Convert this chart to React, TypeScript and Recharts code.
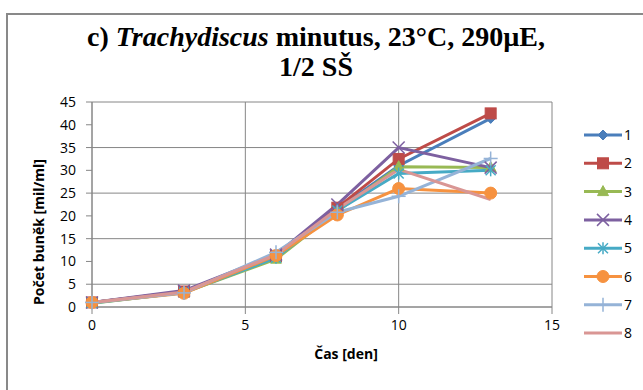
import React from 'react';
import { LineChart, Line, XAxis, YAxis, CartesianGrid } from 'recharts';

// growth curves, cell count vs. day
const days = [0, 3, 6, 8, 10, 13];
const s1 = [1.0, 3.3, 11.0, 21.5, 31.0, 41.4];
const s2 = [1.0, 3.4, 11.2, 21.8, 32.5, 42.5];
const s3 = [0.8, 3.2, 10.5, 21.0, 30.8, 30.6];
const s4 = [1.0, 3.6, 11.5, 22.5, 35.0, 30.6];
const s5 = [0.9, 3.2, 10.8, 21.2, 29.3, 30.0];
const s6 = [1.0, 3.0, 11.3, 20.2, 26.0, 25.0];
const s7 = [1.0, 3.1, 12.0, 20.8, 24.3, 32.6];
const s8 = [1.0, 3.3, 11.5, 21.5, 30.2, 23.6];

const seriesNames = ['1', '2', '3', '4', '5', '6', '7', '8'];
const seriesValues = [s1, s2, s3, s4, s5, s6, s7, s8];
const seriesColors = ['#4a7ebb', '#be4b48', '#98b954', '#7d60a0', '#46aac5', '#f69240', '#95b3d7', '#d99694'];
const seriesMarkers = ['diamond', 'square', 'triangle', 'x', 'star', 'circle', 'plus', 'none'];

const xTicks = [0, 5, 10, 15];
const yTicks = [0, 5, 10, 15, 20, 25, 30, 35, 40, 45];

const rows = days.map((d, i) => {
  const row: Record<string, number> = { day: d };
  seriesNames.forEach((n, k) => { row['s' + n] = seriesValues[k][i]; });
  return row;
});

const GRID = '#868686';
const TICK_FONT = '"Open Sans", sans-serif';

function Marker({ cx, cy, kind, color }: { cx: number; cy: number; kind: string; color: string }) {
  if (cx == null || cy == null) return null;
  switch (kind) {
    case 'diamond':
      return <polygon points={`${cx},${cy - 5} ${cx + 5},${cy} ${cx},${cy + 5} ${cx - 5},${cy}`} fill={color} stroke={color} />;
    case 'square':
      return <rect x={cx - 5.5} y={cy - 5.5} width={11} height={11} fill={color} stroke={color} />;
    case 'triangle':
      return <polygon points={`${cx},${cy - 6} ${cx + 5.5},${cy + 4} ${cx - 5.5},${cy + 4}`} fill={color} stroke={color} />;
    case 'x':
      return (
        <g stroke={color} strokeWidth={1.5}>
          <line x1={cx - 6} y1={cy - 6} x2={cx + 6} y2={cy + 6} />
          <line x1={cx - 6} y1={cy + 6} x2={cx + 6} y2={cy - 6} />
        </g>
      );
    case 'star':
      return (
        <g stroke={color} strokeWidth={1.5}>
          <line x1={cx - 5} y1={cy - 5} x2={cx + 5} y2={cy + 5} />
          <line x1={cx - 5} y1={cy + 5} x2={cx + 5} y2={cy - 5} />
          <line x1={cx} y1={cy - 6} x2={cx} y2={cy + 6} />
        </g>
      );
    case 'circle':
      return <circle cx={cx} cy={cy} r={6} fill={color} stroke={color} />;
    case 'plus':
      return (
        <g stroke={color} strokeWidth={1.5}>
          <line x1={cx - 7} y1={cy} x2={cx + 7} y2={cy} />
          <line x1={cx} y1={cy - 7} x2={cx} y2={cy + 7} />
        </g>
      );
    default:
      return null;
  }
}

function LegendBox() {
  return (
    <svg width={60} height={230} style={{ position: 'absolute', left: 582, top: 125 }}>
      {seriesNames.map((n, i) => {
        const y = 10 + i * 28.3;
        return (
          <g key={n}>
            <line x1={2} y1={y} x2={40} y2={y} stroke={seriesColors[i]} strokeWidth={3} />
            <Marker cx={21} cy={y} kind={seriesMarkers[i]} color={seriesColors[i]} />
            <text x={42} y={y + 5} fontFamily={TICK_FONT} fontSize={14} fill="#000">{n}</text>
          </g>
        );
      })}
    </svg>
  );
}

export default function App() {
  return (
    <div style={{ position: 'absolute', left: 0, top: 0, width: 643, height: 390, overflow: 'hidden', background: '#fff' }}>
      <div style={{ position: 'absolute', left: 6, top: 13, width: 660, height: 400, border: '2px solid #898989' }} />
      <div style={{ position: 'absolute', left: 0, top: 22, width: 632, textAlign: 'center', fontFamily: '"Liberation Serif", serif', fontWeight: 'bold', fontSize: 28, lineHeight: '30px', color: '#000' }}>
        c) <i>Trachydiscus</i> minutus, 23°C, 290µE,<br />1/2 SŠ
      </div>
      <div style={{ position: 'absolute', left: 38, top: 232, transform: 'translate(-50%, -50%) rotate(-90deg)', whiteSpace: 'nowrap', fontFamily: TICK_FONT, fontWeight: 'bold', fontSize: 14, color: '#000' }}>
        Počet buněk [mil/ml]
      </div>
      <div style={{ position: 'absolute', left: 346, top: 353, transform: 'translate(-50%, -50%)', whiteSpace: 'nowrap', fontFamily: TICK_FONT, fontWeight: 'bold', fontSize: 14, color: '#000' }}>
        Čas [den]
      </div>
      <LineChart width={643} height={390} data={rows} margin={{ top: 102, right: 91, bottom: 53, left: 0 }} style={{ position: 'absolute', left: 0, top: 0 }}>
        <CartesianGrid stroke={GRID} strokeWidth={1} />
        <XAxis dataKey="day" type="number" domain={[0, 15]} ticks={xTicks} height={30} tickSize={7} tickMargin={6}
          axisLine={{ stroke: GRID }} tickLine={{ stroke: GRID }} tick={{ fontFamily: TICK_FONT, fontSize: 14, fill: '#000' }} />
        <YAxis type="number" domain={[0, 45]} ticks={yTicks} width={92} tickSize={6} tickMargin={10}
          axisLine={{ stroke: GRID }} tickLine={{ stroke: GRID }} tick={{ fontFamily: TICK_FONT, fontSize: 14, fill: '#000' }} />
        {seriesNames.map((n, i) => (
          <Line key={n} dataKey={'s' + n} name={n} stroke={seriesColors[i]} strokeWidth={3} isAnimationActive={false}
            dot={(p: any) => <Marker key={`${n}-${p.index}`} cx={p.cx} cy={p.cy} kind={seriesMarkers[i]} color={seriesColors[i]} />}
            activeDot={false} />
        ))}
      </LineChart>
      <LegendBox />
    </div>
  );
}
